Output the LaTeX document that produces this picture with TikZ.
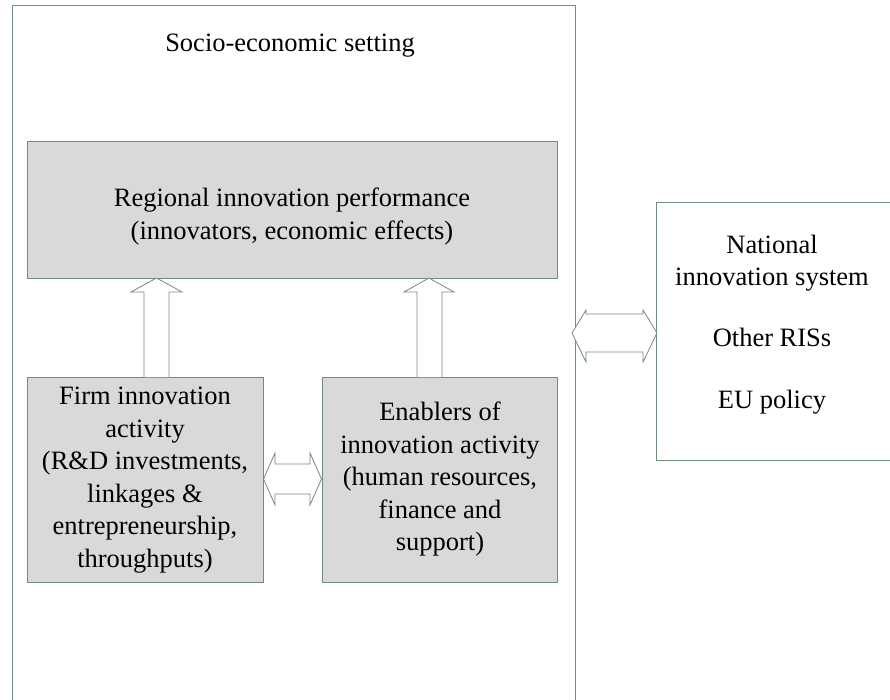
\documentclass[tikz,border=0pt]{standalone}
\usepackage{fontspec}
\setmainfont{Liberation Serif}
\definecolor{edge}{RGB}{112,142,122}
\definecolor{boxfill}{RGB}{217,217,217}
\begin{document}
\begin{tikzpicture}[x=1pt,y=-1pt,
  frame/.style={draw=edge,line width=1pt},
  graybox/.style={draw=edge,line width=1pt,fill=boxfill},
  txt/.style={align=center,font=\fontsize{26.5}{32.5}\selectfont,inner sep=0pt},
  fatarrow/.style={draw=edge,line width=0.8pt,fill=white,line join=miter}]
\useasboundingbox (0,0) rectangle (890,700);
% outer socio-economic frame
\draw[frame] (12,705) -- (12,6) -- (575,6) -- (575,705);
\node[txt] (setting) at (290,46) {Socio-economic setting};
% right box
\draw[frame] (895,203) -- (656,203) -- (656,460) -- (895,460);
\node[txt] (nis) at (772,263) {National\\innovation system};
\node[txt] (ris) at (772,337) {Other RISs};
\node[txt] (eu) at (772,402) {EU policy};
% gray boxes
\node[graybox,minimum width=530pt,minimum height=136pt] (perf) at (292,210) {};
\node[txt,font=\fontsize{26.5}{33}\selectfont] at (292,216) {Regional innovation performance\\(innovators, economic effects)};
\node[graybox,minimum width=236pt,minimum height=205pt] (firm) at (145,479.5) {};
\node[txt] at (145,480) {Firm innovation\\activity\\(R\&D investments,\\linkages \&\\entrepreneurship,\\throughputs)};
\node[graybox,minimum width=235pt,minimum height=205pt] (enab) at (439.5,479.5) {};
\node[txt] at (440,479) {Enablers of\\innovation activity\\(human resources,\\finance and\\support)};
% up arrows
\draw[fatarrow] (144,377) -- (144,292) -- (131,292) -- (156.5,278) -- (182,292) -- (169,292) -- (169,377);
\draw[fatarrow] (417,377) -- (417,292) -- (404,292) -- (429,278) -- (454,292) -- (442,292) -- (442,377);
% double arrow firm <-> enablers
\draw[fatarrow] (firm.east |- 0,479) -- (275,453) -- (275,464) -- (310,464) -- (310,453) -- (enab.west |- 0,479) -- (310,505) -- (310,494) -- (275,494) -- (275,505) -- cycle;
% double arrow setting <-> external
\draw[fatarrow] (572,333) -- (586,310) -- (586,314) -- (643,314) -- (643,310) -- (657,333) -- (643,362) -- (643,352) -- (586,352) -- (586,362) -- cycle;
\end{tikzpicture}
\end{document}
